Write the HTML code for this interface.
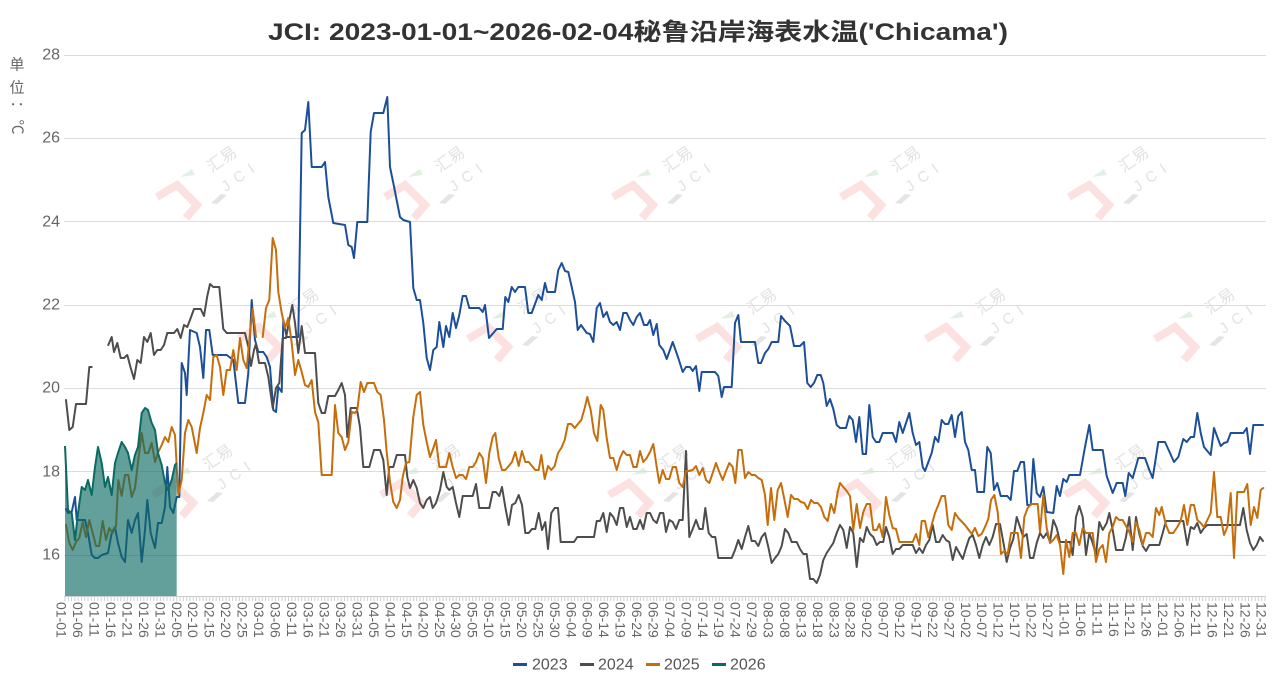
<!DOCTYPE html>
<html><head><meta charset="utf-8"><style>html,body{margin:0;padding:0;background:#fff}svg{display:block}</style></head>
<body>
<svg width="1279" height="689" viewBox="0 0 1279 689" xmlns="http://www.w3.org/2000/svg">
<defs>
<pattern id="tk" patternUnits="userSpaceOnUse" x="64.5" y="0" width="3.2877" height="10"><rect x="0" y="0" width="1" height="10" fill="#cfcfcf"/></pattern>
</defs>
<rect width="1279" height="689" fill="#fff"/>
<!-- watermarks -->
<g id="wm" transform="translate(209,180)">
<path d="M-52,17 L-32,5 L-12,25 L-23,38" stroke="#fde0e0" stroke-width="8" fill="none" stroke-linejoin="miter"/>
<polygon points="-29,-3 -17,-11 -14,-5" fill="#e2f0e4"/>
<polygon points="2,23 12,14 18,15 8,24" fill="#e4e4e4"/>
<text x="0" y="0" transform="translate(12,-22) rotate(-35)" text-anchor="middle" dominant-baseline="central" font-size="16" fill="#e2e2e2" font-family="'Noto Sans CJK SC',sans-serif">汇易</text>
<text x="0" y="0" transform="translate(32,-4) rotate(-35)" text-anchor="middle" dominant-baseline="central" font-size="15" fill="#e2e2e2" letter-spacing="7" font-family="'Liberation Sans',sans-serif">JCI</text>
</g>
<use href="#wm" transform="translate(228,0)"/><use href="#wm" transform="translate(456,0)"/><use href="#wm" transform="translate(684,0)"/><use href="#wm" transform="translate(912,0)"/>
<use href="#wm" transform="translate(82,142)"/><use href="#wm" transform="translate(311,142)"/><use href="#wm" transform="translate(540,142)"/><use href="#wm" transform="translate(769,142)"/><use href="#wm" transform="translate(998,142)"/>
<use href="#wm" transform="translate(-4,298)"/><use href="#wm" transform="translate(224,298)"/><use href="#wm" transform="translate(452,298)"/><use href="#wm" transform="translate(680,298)"/><use href="#wm" transform="translate(908,298)"/>
<!-- title -->
<text x="268" y="40" textLength="740" lengthAdjust="spacingAndGlyphs" font-size="24" font-weight="bold" fill="#333" font-family="'Liberation Sans','Noto Sans CJK SC',sans-serif">JCI: 2023-01-01~2026-02-04秘鲁沿岸海表水温('Chicama')</text>
<!-- unit -->
<g font-size="15" fill="#666" font-family="'Liberation Sans','Noto Sans CJK SC',sans-serif" text-anchor="middle" dominant-baseline="central">
<text x="17" y="65">单</text><text x="17" y="88">位</text><text x="17" y="108" transform="rotate(90,17,108)">：</text><text x="17" y="127" transform="rotate(90,17,127)">℃</text>
</g>
<!-- grid -->
<g stroke="#dcdcdc" stroke-width="1">
<line x1="64" y1="55.5" x2="1266" y2="55.5"/><line x1="64" y1="138.5" x2="1266" y2="138.5"/><line x1="64" y1="221.5" x2="1266" y2="221.5"/><line x1="64" y1="305.5" x2="1266" y2="305.5"/><line x1="64" y1="388.5" x2="1266" y2="388.5"/><line x1="64" y1="471.5" x2="1266" y2="471.5"/><line x1="64" y1="555.5" x2="1266" y2="555.5"/>
</g>
<line x1="64" y1="596.5" x2="1266" y2="596.5" stroke="#cccccc" stroke-width="1"/>
<rect x="64" y="597" width="1202" height="4" fill="url(#tk)"/>
<!-- y labels -->
<g font-size="16" fill="#666" font-family="'Liberation Sans',sans-serif" text-anchor="end" dominant-baseline="central">
<text x="60" y="55">28</text><text x="60" y="138">26</text><text x="60" y="222">24</text><text x="60" y="305">22</text><text x="60" y="388">20</text><text x="60" y="472">18</text><text x="60" y="555">16</text>
</g>
<!-- x labels -->
<g font-size="14" fill="#666" font-family="'Liberation Sans',sans-serif" dominant-baseline="central">
<text transform="translate(61.7,602) rotate(90)">01-01</text>
<text transform="translate(78.1,602) rotate(90)">01-06</text>
<text transform="translate(94.6,602) rotate(90)">01-11</text>
<text transform="translate(111.0,602) rotate(90)">01-16</text>
<text transform="translate(127.5,602) rotate(90)">01-21</text>
<text transform="translate(143.9,602) rotate(90)">01-26</text>
<text transform="translate(160.3,602) rotate(90)">01-31</text>
<text transform="translate(176.8,602) rotate(90)">02-05</text>
<text transform="translate(193.2,602) rotate(90)">02-10</text>
<text transform="translate(209.6,602) rotate(90)">02-15</text>
<text transform="translate(226.1,602) rotate(90)">02-20</text>
<text transform="translate(242.5,602) rotate(90)">02-25</text>
<text transform="translate(259.0,602) rotate(90)">03-01</text>
<text transform="translate(275.4,602) rotate(90)">03-06</text>
<text transform="translate(291.8,602) rotate(90)">03-11</text>
<text transform="translate(308.3,602) rotate(90)">03-16</text>
<text transform="translate(324.7,602) rotate(90)">03-21</text>
<text transform="translate(341.2,602) rotate(90)">03-26</text>
<text transform="translate(357.6,602) rotate(90)">03-31</text>
<text transform="translate(374.0,602) rotate(90)">04-05</text>
<text transform="translate(390.5,602) rotate(90)">04-10</text>
<text transform="translate(406.9,602) rotate(90)">04-15</text>
<text transform="translate(423.3,602) rotate(90)">04-20</text>
<text transform="translate(439.8,602) rotate(90)">04-25</text>
<text transform="translate(456.2,602) rotate(90)">04-30</text>
<text transform="translate(472.7,602) rotate(90)">05-05</text>
<text transform="translate(489.1,602) rotate(90)">05-10</text>
<text transform="translate(505.5,602) rotate(90)">05-15</text>
<text transform="translate(522.0,602) rotate(90)">05-20</text>
<text transform="translate(538.4,602) rotate(90)">05-25</text>
<text transform="translate(554.9,602) rotate(90)">05-30</text>
<text transform="translate(571.3,602) rotate(90)">06-04</text>
<text transform="translate(587.7,602) rotate(90)">06-09</text>
<text transform="translate(604.2,602) rotate(90)">06-14</text>
<text transform="translate(620.6,602) rotate(90)">06-19</text>
<text transform="translate(637.0,602) rotate(90)">06-24</text>
<text transform="translate(653.5,602) rotate(90)">06-29</text>
<text transform="translate(669.9,602) rotate(90)">07-04</text>
<text transform="translate(686.4,602) rotate(90)">07-09</text>
<text transform="translate(702.8,602) rotate(90)">07-14</text>
<text transform="translate(719.2,602) rotate(90)">07-19</text>
<text transform="translate(735.7,602) rotate(90)">07-24</text>
<text transform="translate(752.1,602) rotate(90)">07-29</text>
<text transform="translate(768.6,602) rotate(90)">08-03</text>
<text transform="translate(785.0,602) rotate(90)">08-08</text>
<text transform="translate(801.4,602) rotate(90)">08-13</text>
<text transform="translate(817.9,602) rotate(90)">08-18</text>
<text transform="translate(834.3,602) rotate(90)">08-23</text>
<text transform="translate(850.7,602) rotate(90)">08-28</text>
<text transform="translate(867.2,602) rotate(90)">09-02</text>
<text transform="translate(883.6,602) rotate(90)">09-07</text>
<text transform="translate(900.1,602) rotate(90)">09-12</text>
<text transform="translate(916.5,602) rotate(90)">09-17</text>
<text transform="translate(932.9,602) rotate(90)">09-22</text>
<text transform="translate(949.4,602) rotate(90)">09-27</text>
<text transform="translate(965.8,602) rotate(90)">10-02</text>
<text transform="translate(982.2,602) rotate(90)">10-07</text>
<text transform="translate(998.7,602) rotate(90)">10-12</text>
<text transform="translate(1015.1,602) rotate(90)">10-17</text>
<text transform="translate(1031.6,602) rotate(90)">10-22</text>
<text transform="translate(1048.0,602) rotate(90)">10-27</text>
<text transform="translate(1064.4,602) rotate(90)">11-01</text>
<text transform="translate(1080.9,602) rotate(90)">11-06</text>
<text transform="translate(1097.3,602) rotate(90)">11-11</text>
<text transform="translate(1113.8,602) rotate(90)">11-16</text>
<text transform="translate(1130.2,602) rotate(90)">11-21</text>
<text transform="translate(1146.6,602) rotate(90)">11-26</text>
<text transform="translate(1163.1,602) rotate(90)">12-01</text>
<text transform="translate(1179.5,602) rotate(90)">12-06</text>
<text transform="translate(1195.9,602) rotate(90)">12-11</text>
<text transform="translate(1212.4,602) rotate(90)">12-16</text>
<text transform="translate(1228.8,602) rotate(90)">12-21</text>
<text transform="translate(1245.3,602) rotate(90)">12-26</text>
<text transform="translate(1261.7,602) rotate(90)">12-31</text>
</g>
<!-- series -->
<g fill="none" stroke-width="2" stroke-linejoin="round" stroke-linecap="round">
<!-- 2023 -->
<polyline stroke="#1d4f99" points="66,509 68,513 71.7,512 75,497 76.7,520 85,520 88,533 91.7,555 95,558 98,558 101.7,555 108,553 111.7,533 115,527 118,543 121.7,557 125,562 128,520 131.7,533 135,520 138,513 141.7,562 145,530 147.3,500 150.7,533 155,548 158,523 161.7,523 165,507 167.3,467 170,507 173.3,513 176.7,497 179.3,497 181.7,363 185,373 186.7,395 190,330 196.7,333 200,347 203.3,378 206,330 209.3,330 212.7,355 226.7,355 233.3,360 238.3,403 245,403 248.3,373 251.7,300 255,340 258.3,352 263.3,352 266.7,357 270,367 273.3,410 276,412 278.3,387 281.7,392 283.3,320 286.7,337 298.3,337 301.7,133 305,130 308.3,102 311.7,167 321.7,167 325,162 328.3,197 333.3,223 345,225 348.3,245 351.7,247 354,258 357.3,222 367.3,222 370.7,132 374,113 383.3,113 387.3,97 390,167 393.3,183 400,217 403.3,220 410,222 413.3,288 416.7,300 420,300 423.3,323 426.7,358 430,370 433.3,350 436.7,347 439.3,322 443.3,347 446,326 449.3,337 452.7,313 456,328 459.3,315 462.7,296 466,296 469.3,308 479.3,308 482.7,312 485,305 489,338 493.3,333 496.7,329 502.7,329 505.3,297 508.3,302 511.7,287 515,292 518.3,287 525,287 528.3,313 531.7,313 538.3,295 541.7,300 545,283 547.3,292 555,292 558.3,270 561.7,263 565,271 568.3,272 571.7,287 575,302 577.7,330 581,325 586.7,333 590,334 593.3,342 596.7,308 600,303 603.3,317 606.7,312 610,322 613.3,325 616.7,322 620,330 623.3,313 626.7,313 630,320 633.3,325 636.7,317 640,313 644,325 647.3,325 650,320 653.3,335 656.7,324 659.3,345 663.3,350 666.7,359 672.7,342 678.3,358 682.7,372 686,367 690,367 692.7,371 696,366 699.3,391 701.7,372 715,372 718.3,376 721.7,397 724,387 731.7,387 735,323 738.3,315 741,342 755,342 758.3,363 761,363 765,353 768.3,349 771.7,342 778.3,342 781,316 785,321 790,326 794,346 800,346 804,342 807.3,383 810.7,387 814,383 817.3,375 820.7,375 823.3,383 826.7,406 830,399 833.3,409 836.7,425 840,428 846,428 849.3,416 852.7,420 856,442 859.3,417 862.7,454 866,454 869.3,405 872.7,437 876,442 879.3,442 882.7,433 892.7,433 896,442 899.3,422 902.7,433 909.3,413 912.7,433 916,445 919.3,442 922.7,467 925,471 931.7,453 935,437 938.3,442 941.7,420 945,424 948.3,424 951.7,415 955,437 958.3,416 961.7,412 965,442 968.3,450 971.7,470 975,470 977.3,492 984,492 987.3,447 990.7,453 994,490 997.3,483 1000.7,496 1007.3,496 1010.7,500 1014,471 1017.3,471 1020.7,462 1024,462 1027.3,505 1030.7,505 1033.3,459 1036.7,493 1040,497 1043.3,487 1046.7,512 1053.3,513 1056.7,486 1060,496 1063.3,479 1066.7,482 1069.3,475 1080,475 1085,447 1089.3,425 1092.7,450 1102.7,450 1106.7,476 1112.7,493 1116.7,483 1122.7,483 1125.3,496 1128.7,473 1132.7,478 1138.3,458 1145,458 1149.3,470 1152.7,478 1158.3,442 1165,442 1170,453 1174,462 1178.3,457 1183.3,439 1186.7,442 1190.7,437 1194,437 1197.3,413 1200.7,433 1204,447 1210.7,455 1214,428 1217.3,437 1220.7,446 1224,443 1227.3,442 1230.7,433 1243.3,433 1246.7,428 1250,454 1253.3,425 1263,425"/>
<!-- 2024 -->
<polyline stroke="#4d4d4d" points="66,400 69.3,430 72.7,427 76,404 86,404 89.3,367 91.7,367"/>
<polyline stroke="#4d4d4d" points="108.3,345 111.7,337 114,352 117.3,343 120.7,358 124,358 127.3,355 130.7,368 134,379 137.3,360 140.7,363 144,337 147.3,342 150.7,333 154,355 157.3,350 160.7,350 164,345 167.3,333 174,333 177.3,329 180.7,338 184,325 187.3,327 190.7,318 194,309 200.7,309 204,316 207.3,296 210,284 213.3,287 219.3,287 223.3,329 226.7,333 245,333 248.3,347 251,366 254,350 256,344 259,363 265,363 268.3,377 272.7,408 276,388 279.3,383 282.7,338 286,338 289.3,320 292.3,305 295,323 298.3,353 301.7,326 305,353 315,353 318.3,403 321.7,413 325,413 328.3,396 335,396 338.3,390 341.7,383 345,395 347.3,437 350.7,408 356.7,408 360,427 363.3,467 369.3,467 374,450 380,450 383.3,460 386.7,495 389.3,467 393.3,467 396.7,455 405,455 407.3,477 410,488 413.3,480 416.7,488 420,503 423.3,508 426.7,500 430,497 432.7,508 436,503 440,490 443.3,472 446.7,487 449.3,490 452.7,487 456,503 459.3,517 462.7,496 472.7,496 476,484 479.3,508 489.3,508 492.7,492 496,492 499.3,496 502,487 505.3,507 508.7,525 512,505 515.3,503 518.7,495 522,505 525.3,533 528.7,533 532,529 535.3,529 538.7,513 542,530 545.3,522 548,549 551.3,513 554.7,508 558,508 560.7,542 574,542 577.3,537 594,537 596.7,521 600,521 603.3,513 606.7,532 610,513 613.3,517 616.7,525 620,508 623.3,508 626.7,527 630,517 633.3,529 636.7,529 640,520 643.3,529 646.7,513 650,513 653.3,520 656.7,523 660,513 663.3,513 666,532 669.3,520 672.7,522 676,529 679.3,520 682.7,520 686,451 689.3,537 692.7,529 696,520 699.3,529 702.7,529 705.3,508 708.7,533 712,537 715.3,537 718.3,558 731.7,558 735,550 738.3,540 741.7,549 745,537 748.3,526 751.7,541 755,541 758.3,546 761.7,537 765,533 768.3,547 771.7,563 775,558 778.3,554 781.7,546 785,529 788.3,533 791.7,542 796.7,542 800,549 803.3,554 806.7,554 810,579 813.3,579 816.7,583 820,575 823.3,560 826.7,553 830,548 833.3,543 836.7,533 840,525 843.3,530 846.7,548 850,527 853.3,533 856.7,567 860,538 863.3,542 866.7,527 870,534 873.3,537 876.7,545 880,542 883.3,542 886,527 889.3,537 892.7,554 896,549 899.3,549 902.7,545 912.7,545 916,553 919.3,548 922.7,553 926,545 929.3,540 932.7,525 936,542 939.3,542 942.7,535 946,540 949.3,542 952.7,560 956,547 959.3,553 962.7,559 966,548 969.3,538 972.7,535 976,545 979.3,558 982.7,545 986,537 989.3,545 992.7,537 996,524 1000,524 1003.3,542 1006.7,562 1010,548 1013.3,539 1016.7,517 1020,527 1023.3,537 1026.7,534 1030,558 1033.3,558 1036.7,543 1040,533 1043.3,538 1046.7,533 1050,542 1053.3,520 1056.7,528 1060,542 1070,542 1072.7,555 1076,517 1079.3,506 1082.7,517 1086,555 1089.3,533 1092.7,543 1096,555 1099.3,522 1102.7,530 1106.7,523 1109.3,513 1112.7,530 1116,550 1122.7,550 1126,537 1129.3,517 1132.7,550 1136,517 1139.3,534 1142.7,546 1146,551 1149.3,545 1159.3,545 1162.7,533 1166,521 1183.3,521 1187.3,545 1190.7,527 1194,529 1197.3,523 1200.7,533 1204,528 1207.3,525 1240,525 1243.3,508 1246.7,530 1250,543 1253.3,550 1256.7,545 1260,537 1263,541"/>
<!-- 2025 -->
<polyline stroke="#c66e0c" points="66,525 69.3,543 72.7,550 76,542 79.3,538 82.7,522 86,537 89.3,520 92.7,533 96,546 99.3,546 102.7,521 106,540 109.3,528 112.7,533 116,526 118.3,480 121.7,496 125,475 128.3,475 131.7,497 135,488 138.3,460 141.7,433 145,453 148.3,453 151.7,443 155,462 158.3,452 161.7,445 165,437 168.3,442 171.7,427 175,435 178.3,495 181.7,480 185,433 188.3,420 191.7,427 196.7,453 200,428 203.3,413 206.7,395 210,400 213.3,357 216.7,355 220,367 223.3,395 226.7,370 230,370 233.3,350 236.7,370 240,338 243.3,360 246.7,368 250,333 252.7,309 256,337"/>
<polyline stroke="#c66e0c" points="262.7,337 266,308 269.3,300 272.7,238 276,250 278.3,292 281.7,313 285,328 288.3,318 291.7,343 295,375 298.3,360 301.7,372 305,385 308.3,387 311.7,380 315,412 318.3,422 321.7,475 331.7,475 335,405 338.3,433 341.7,437 345,450 348.3,442 351.7,412 355,413 357.3,410 360.7,382 364,392 367.3,383 374,383 377.3,392 380.7,395 384,420 386.7,452 390,482 393.3,502 396.7,508 400,500 402.7,477 406,463 409.3,462 413.3,417 416.7,395 420,392 423.3,425 426.7,442 430,457 432.7,450 436,440 439.3,467 446,467 449.3,453 452.7,467 456,478 459.3,475 462.7,475 466,479 469.3,467 472.7,467 476,462 479.3,453 482.7,458 486,483 489.3,453 492.7,437 495.3,433 498.7,458 502,470 505.3,470 508.7,466 512,462 515.3,452 518.7,466 522,451 525.3,462 528.7,462 532,466 535.3,470 538.7,470 541.3,455 544.7,479 548,466 551.3,470 554.7,466 558,453 561.3,448 564.7,440 568,424 571.3,424 574.7,428 578,424 581.3,420 584.7,408 587.3,397 590.7,410 594,433 597.3,441 600.7,405 603.3,410 606.7,438 610,458 613.3,458 616.7,470 620,458 623.3,451 626.7,455 630,455 633.3,467 636.7,467 640,451 643.3,462 646.7,458 650,452 653.3,444 656.7,467 659.3,483 662.7,470 666,479 669.3,479 672.7,467 676,467 679.3,483 682.7,487 686,471 689.3,471 692.7,470 696,466 699.3,475 702.7,468 706,480 709.3,483 712.7,473 716,463 719.3,472 722.7,480 726,471 729.3,463 732.7,467 735.3,483 738.3,450 741.7,450 745,478 748.3,472 751.7,475 755,475 758.3,478 761.7,480 765,495 767.7,525 771,488 774.3,520 777.7,490 781,483 784.3,499 787.7,517 791,495 794.3,499 797.7,499 801,502 804.3,503 807.7,509 811,500 814.3,503 817.7,503 821,507 824.3,517 827.7,521 831,504 834.3,513 837.7,492 840,483 843.3,487 846.7,491 850,496 853.3,530 856.7,504 860,528 863.3,512 866.7,504 870,504 873.3,530 876.7,530 879.3,524 882.7,537 886,497 889.3,515 892.7,528 896,529 899.3,542 912.7,542 916,534 919.3,545 921.7,521 925,521 928.3,537 931.7,525 935,513 938.3,505 941.7,496 945,496 948.3,525 951.7,530 955,513 958.3,518 965,525 971.7,534 975,528 978.3,536 981.7,534 985,527 988.3,519 991,500 994.3,495 997.7,512 1001,554 1004.3,551 1007.7,554 1011,533 1017.7,533 1021,558 1024.3,517 1027.7,508 1031,504 1037.7,504 1040,532 1043.3,495 1046.7,528 1050,543 1053.3,540 1056.7,535 1060,545 1063.3,574 1066,540 1069.3,557 1072.7,533 1076,533 1079.3,545 1082.7,528 1086,533 1092.7,533 1096,562 1099.3,549 1102.7,545 1106,562 1109.3,533 1112.7,527 1116,517 1119.3,520 1122.7,520 1129.3,532 1132.7,542 1136,522 1139.3,530 1142.7,545 1146,533 1149.3,533 1152.7,537 1156,508 1159.3,515 1161.7,507 1166,525 1169.3,533 1173.3,533 1177.3,527 1180.7,521 1184,505 1187.3,525 1190.7,505 1194,505 1197.3,520 1200.7,523 1204,527 1207.3,520 1210.7,513 1214,472 1217.3,517 1220.7,517 1224,535 1227.3,527 1230.7,493 1234,558 1237.3,492 1244,492 1247.3,484 1250.7,525 1254,507 1257.3,518 1260.7,490 1263.3,488"/>
</g>
<!-- 2026 area -->
<path fill="#0b6b62" fill-opacity="0.64" stroke="none" d="M65,596 L65,446 L66,446 L68,510 L71.7,513 L75,540 L78,513 L81.7,487 L85,490 L88,480 L91.7,495 L95,467 L98,447 L101.7,463 L105,487 L108,477 L111.7,495 L115,463 L118,453 L121.7,442 L125,447 L128,453 L131.7,470 L135,455 L138,447 L141.7,413 L145,408 L148,410 L151.7,423 L155,430 L158,453 L161.7,465 L165,483 L168,490 L171.7,480 L175,465 L176.7,463 L176.7,596 Z"/>
<polyline fill="none" stroke="#0b6b62" stroke-width="2" stroke-linejoin="round" points="65,446 68,510 71.7,513 75,540 78,513 81.7,487 85,490 88,480 91.7,495 95,467 98,447 101.7,463 105,487 108,477 111.7,495 115,463 118,453 121.7,442 125,447 128,453 131.7,470 135,455 138,447 141.7,413 145,408 148,410 151.7,423 155,430 158,453 161.7,465 165,483 168,490 171.7,480 175,465 176.7,463"/>
<!-- legend -->
<g stroke-width="3">
<line x1="513" y1="664.5" x2="527" y2="664.5" stroke="#1d4f99"/>
<line x1="580" y1="664.5" x2="594" y2="664.5" stroke="#4d4d4d"/>
<line x1="646" y1="664.5" x2="660" y2="664.5" stroke="#c66e0c"/>
<line x1="712" y1="664.5" x2="726" y2="664.5" stroke="#0b6b62"/>
</g>
<g font-size="16" fill="#555" font-family="'Liberation Sans',sans-serif" dominant-baseline="central">
<text x="532" y="665">2023</text><text x="598" y="665">2024</text><text x="664" y="665">2025</text><text x="730" y="665">2026</text>
</g>
</svg>
</body></html>
